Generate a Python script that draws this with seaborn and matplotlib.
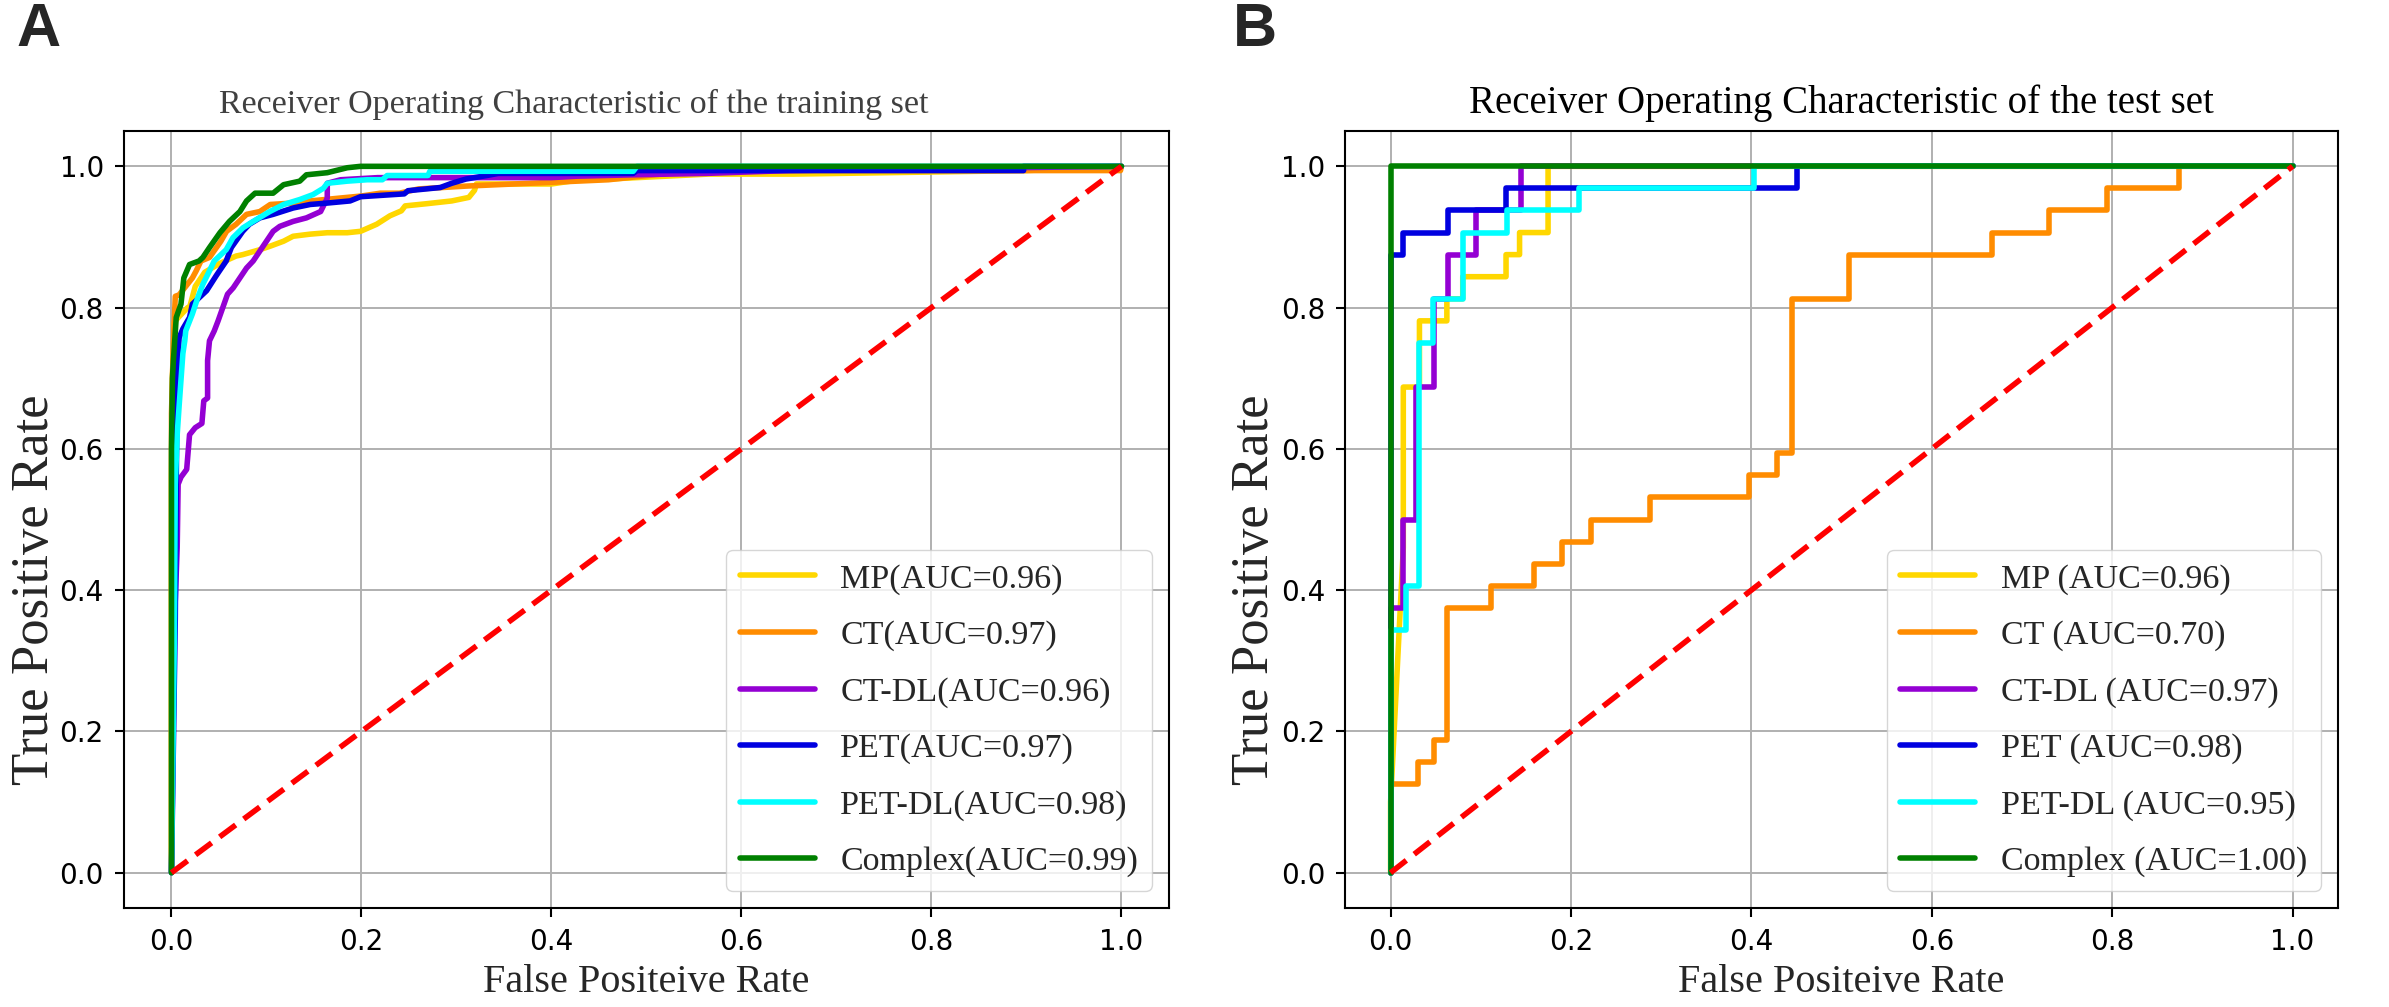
import matplotlib
matplotlib.use("Agg")
import matplotlib.pyplot as plt
import seaborn as sns

# ---- training set ROC points ----
labels_train = ["MP(AUC=0.96)", "CT(AUC=0.97)", "CT-DL(AUC=0.96)",
                "PET(AUC=0.97)", "PET-DL(AUC=0.98)", "Complex(AUC=0.99)"]

train_mp_fpr = [0, 0, 0.001, 0.003, 0.017, 0.019, 0.025, 0.035, 0.05, 0.068, 0.075, 0.093, 0.104,
                0.118, 0.128, 0.146, 0.164, 0.185, 0.199, 0.216, 0.23, 0.242, 0.246, 0.268, 0.295,
                0.313, 0.319, 0.321, 0.40, 0.43, 0.46, 0.565, 0.655, 0.90, 1.0]
train_mp_tpr = [0, 0.56, 0.70, 0.78, 0.80, 0.80, 0.83, 0.85, 0.862, 0.873, 0.875, 0.882, 0.887,
                0.894, 0.901, 0.904, 0.906, 0.906, 0.908, 0.918, 0.930, 0.937, 0.944, 0.947, 0.951,
                0.956, 0.966, 0.975, 0.975, 0.981, 0.982, 0.989, 0.989, 0.994, 1.0]

train_ct_fpr = [0, 0, 0.002, 0.004, 0.008, 0.022, 0.026, 0.031, 0.040, 0.052, 0.058, 0.068, 0.079,
                0.093, 0.104, 0.128, 0.146, 0.20, 0.22, 0.24, 0.26, 0.31, 0.46, 0.55, 0.999, 1.0]
train_ct_tpr = [0, 0.65, 0.75, 0.816, 0.818, 0.842, 0.852, 0.866, 0.871, 0.894, 0.908, 0.918, 0.932,
                0.936, 0.946, 0.948, 0.951, 0.958, 0.962, 0.962, 0.968, 0.972, 0.981, 0.994, 0.994, 1.0]

train_ctdl_fpr = [0, 0.003, 0.006, 0.007, 0.010, 0.016, 0.019, 0.025, 0.032, 0.034, 0.038, 0.038,
                  0.040, 0.045, 0.049, 0.054, 0.059, 0.065, 0.072, 0.079, 0.086, 0.093, 0.10, 0.107,
                  0.114, 0.128, 0.142, 0.157, 0.164, 0.164, 0.178, 0.217, 0.40, 0.426, 0.486, 0.563,
                  0.65, 1.0]
train_ctdl_tpr = [0, 0.35, 0.46, 0.55, 0.56, 0.571, 0.62, 0.63, 0.636, 0.668, 0.672, 0.725,
                  0.753, 0.767, 0.781, 0.80, 0.819, 0.828, 0.842, 0.856, 0.866, 0.88, 0.894, 0.908,
                  0.915, 0.922, 0.927, 0.936, 0.955, 0.976, 0.981, 0.984, 0.984, 0.986, 0.988, 0.990,
                  0.994, 1.0]

train_pet_fpr = [0, 0.004, 0.005, 0.006, 0.008, 0.012, 0.019, 0.022, 0.026, 0.037, 0.047, 0.0505,
                 0.0576, 0.063, 0.075, 0.082, 0.093, 0.107, 0.128, 0.146, 0.164, 0.188, 0.199, 0.245,
                 0.249, 0.283, 0.295, 0.31, 0.332, 0.344, 0.486, 0.49, 0.897, 0.897, 1.0]
train_pet_tpr = [0, 0.36, 0.55, 0.70, 0.757, 0.77, 0.786, 0.805, 0.81, 0.824, 0.845, 0.852,
                 0.866, 0.885, 0.908, 0.918, 0.927, 0.932, 0.941, 0.946, 0.948, 0.951, 0.957, 0.961,
                 0.9655, 0.970, 0.976, 0.982, 0.987, 0.990, 0.990, 0.994, 0.994, 1.0, 1.0]

train_petdl_fpr = [0, 0.003, 0.004, 0.006, 0.008, 0.012, 0.014, 0.015, 0.022, 0.0276, 0.033, 0.040,
                   0.045, 0.0576, 0.0647, 0.0753, 0.086, 0.1035, 0.118, 0.135, 0.149, 0.16, 0.164,
                   0.185, 0.206, 0.222, 0.227, 0.27, 0.272, 0.486, 0.49, 1.0]
train_petdl_tpr = [0, 0.33, 0.55, 0.62, 0.66, 0.735, 0.753, 0.767, 0.791, 0.814, 0.833, 0.852,
                   0.866, 0.882, 0.899, 0.913, 0.922, 0.936, 0.946, 0.953, 0.96, 0.969, 0.976,
                   0.979, 0.981, 0.981, 0.987, 0.987, 0.993, 0.993, 1.0, 1.0]

train_cx_fpr = [0, 0, 0.001, 0.002, 0.005, 0.010, 0.013, 0.019, 0.029, 0.033, 0.040, 0.051, 0.061,
                0.072, 0.079, 0.088, 0.107, 0.118, 0.135, 0.142, 0.164, 0.185, 0.199, 1.0]
train_cx_tpr = [0, 0.60, 0.70, 0.725, 0.786, 0.805, 0.842, 0.861, 0.866, 0.871, 0.885, 0.906, 0.922,
                0.936, 0.951, 0.962, 0.962, 0.974, 0.979, 0.988, 0.991, 0.998, 1.0, 1.0]

# ---- test set ROC points ----
labels_test = ["MP (AUC=0.96)", "CT (AUC=0.70)", "CT-DL (AUC=0.97)",
               "PET (AUC=0.98)", "PET-DL (AUC=0.95)", "Complex (AUC=1.00)"]

test_mp_fpr = [0, 0, 0.0141, 0.0141, 0.032, 0.032, 0.0624, 0.0624, 0.080, 0.080, 0.128, 0.128,
               0.143, 0.143, 0.1746, 0.1746, 1.0]
test_mp_tpr = [0, 0.10, 0.46, 0.6875, 0.6875, 0.78125, 0.78125, 0.8125, 0.8125, 0.84375, 0.84375,
               0.875, 0.875, 0.90625, 0.90625, 1.0, 1.0]

test_ct_fpr = [0, 0, 0.0307, 0.0307, 0.0476, 0.0476, 0.0628, 0.0628, 0.111, 0.111, 0.159, 0.159,
               0.190, 0.190, 0.222, 0.222, 0.2875, 0.2875, 0.3975, 0.3975, 0.4289, 0.4289, 0.445,
               0.445, 0.5085, 0.5085, 0.667, 0.667, 0.730, 0.730, 0.794, 0.794, 0.874, 0.874, 1.0]
test_ct_tpr = [0, 0.125, 0.125, 0.15625, 0.15625, 0.1875, 0.1875, 0.375, 0.375, 0.40625, 0.40625,
               0.4375, 0.4375, 0.46875, 0.46875, 0.5, 0.5, 0.53125, 0.53125, 0.5625, 0.5625,
               0.59375, 0.59375, 0.8125, 0.8125, 0.875, 0.875, 0.90625, 0.90625, 0.9375, 0.9375,
               0.96875, 0.96875, 1.0, 1.0]

test_ctdl_fpr = [0, 0, 0.014, 0.014, 0.028, 0.028, 0.0476, 0.0476, 0.0635, 0.0635, 0.095, 0.095,
                 0.1446, 0.1446, 1.0]
test_ctdl_tpr = [0, 0.375, 0.375, 0.5, 0.5, 0.6875, 0.6875, 0.8125, 0.8125, 0.875, 0.875, 0.9375,
                 0.9375, 1.0, 1.0]

test_pet_fpr = [0, 0, 0.014, 0.014, 0.0635, 0.0635, 0.128, 0.128, 0.451, 0.451, 1.0]
test_pet_tpr = [0, 0.875, 0.875, 0.90625, 0.90625, 0.9375, 0.9375, 0.96875, 0.96875, 1.0, 1.0]

test_petdl_fpr = [0, 0, 0.0166, 0.0166, 0.032, 0.032, 0.047, 0.047, 0.080, 0.080, 0.129, 0.129,
                  0.209, 0.209, 0.403, 0.403, 1.0]
test_petdl_tpr = [0, 0.34375, 0.34375, 0.40625, 0.40625, 0.75, 0.75, 0.8125, 0.8125, 0.90625,
                  0.90625, 0.9375, 0.9375, 0.96875, 0.96875, 1.0, 1.0]

test_cx_fpr = [0, 0, 1.0]
test_cx_tpr = [0, 1.0, 1.0]

chance_x = [0, 1]
chance_y = [0, 1]

colors = ["#FFD700", "#FF8C00", "#9400D3", "#0000E0", "#00FFFF", "#008000"]

sns.set_style("whitegrid", {"axes.edgecolor": "black", "grid.color": "#b0b0b0",
                            "xtick.bottom": True, "ytick.left": True,
                            "xtick.color": "black", "ytick.color": "black"})
plt.rcParams["font.family"] = ["DejaVu Sans"]
SERIF = ["Liberation Serif", "DejaVu Serif"]

fig = plt.figure(figsize=(23.89, 10.07), dpi=100)
ax1 = fig.add_axes([0.0519, 0.0983, 0.4374, 0.7716])
ax2 = fig.add_axes([0.5632, 0.0983, 0.4153, 0.7716])

train = [(train_mp_fpr, train_mp_tpr), (train_ct_fpr, train_ct_tpr),
         (train_ctdl_fpr, train_ctdl_tpr), (train_pet_fpr, train_pet_tpr),
         (train_petdl_fpr, train_petdl_tpr), (train_cx_fpr, train_cx_tpr)]
test = [(test_mp_fpr, test_mp_tpr), (test_ct_fpr, test_ct_tpr),
        (test_ctdl_fpr, test_ctdl_tpr), (test_pet_fpr, test_pet_tpr),
        (test_petdl_fpr, test_petdl_tpr), (test_cx_fpr, test_cx_tpr)]


def draw(ax, curves, labels, title, title_color, title_size, title_x, ylab_x):
    for (fx, ty), lab, c in zip(curves, labels, colors):
        sns.lineplot(x=fx, y=ty, color=c, label=lab, lw=4.0, estimator=None,
                     sort=False, legend=False, ax=ax)
    sns.lineplot(x=chance_x, y=chance_y, color="red", lw=4.0, estimator=None,
                 sort=False, legend=False, ax=ax)
    ax.lines[-1].set_dashes((3.6, 1.8))
    ax.set_xlim(-0.05, 1.05)
    ax.set_ylim(-0.05, 1.05)
    ax.set_xticks([0, 0.2, 0.4, 0.6, 0.8, 1.0])
    ax.set_yticks([0, 0.2, 0.4, 0.6, 0.8, 1.0])
    ax.tick_params(labelsize=20, length=6.5, width=1.5, pad=8)
    ax.grid(True, color="#b0b0b0", lw=1.4)
    for s in ax.spines.values():
        s.set_linewidth(1.5)
        s.set_color("black")
    ax.set_xlabel("False Positeive Rate", family=SERIF, fontsize=29, labelpad=6)
    ax.set_ylabel("True Positive Rate", family=SERIF, fontsize=38)
    ax.yaxis.set_label_coords(ylab_x, 0.41)
    ax.set_title(title, family=SERIF, fontsize=title_size, color=title_color, pad=13,
                 x=title_x)
    ax.legend(loc="lower right", prop={"family": SERIF, "size": 24.5},
              handlelength=2.2, handletextpad=0.75, labelspacing=0.75,
              borderaxespad=0.5, framealpha=0.8)


draw(ax1, train, labels_train, "Receiver Operating Characteristic of the training set",
     "#404040", 24.5, 0.43, -0.062)
draw(ax2, test, labels_test, "Receiver Operating Characteristic of the test set",
     "black", 28, 0.5, -0.067)

fig.text(0.007, 0.998, "A", family=["Liberation Sans", "DejaVu Sans"], fontweight="bold",
         fontsize=44, va="top", ha="left")
fig.text(0.516, 0.998, "B", family=["Liberation Sans", "DejaVu Sans"], fontweight="bold",
         fontsize=44, va="top", ha="left")

fig.savefig("out.png", dpi=100)
